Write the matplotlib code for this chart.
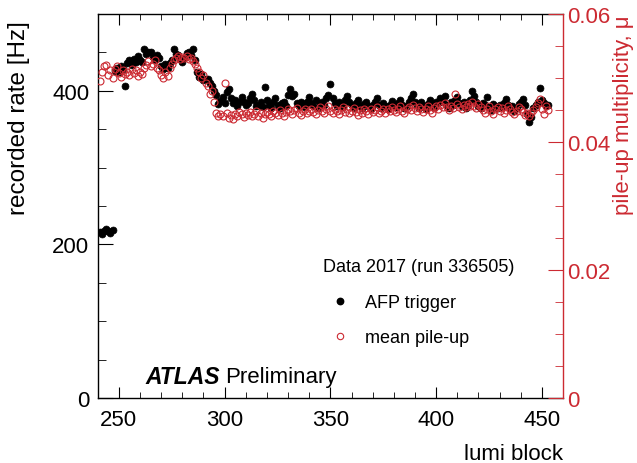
import matplotlib
matplotlib.use('Agg')
import matplotlib.pyplot as plt
from matplotlib.ticker import MultipleLocator, FuncFormatter
from matplotlib.lines import Line2D

plt.rcParams['font.family'] = ['Liberation Sans', 'DejaVu Sans']

RED = '#cc2a32'

lumi_start = 241
# AFP trigger recorded rate [Hz], one value per lumi block from 241
afp_rate = [
    216, 214, 218, 220, 217, 215, 219,
    426, 430, 424, 432, 428, 406,
    436, 440, 434, 442, 438, 445, 440, 437, 454,
    448, 451, 450, 444, 440, 446, 443,
    432, 428, 435, 430, 436, 440,
    454, 448, 446, 441, 438, 443, 449, 451, 447, 454,
    440, 425, 418, 422, 414, 416, 415, 410, 406, 400, 395,
    383, 387, 392, 384,
    398, 402, 390, 384, 388, 380, 385, 392, 386, 381,
    384, 390, 396, 388, 380, 382, 386, 379, 405, 388,
    382, 378, 385, 390, 381, 377, 384, 386, 380, 394,
    402, 393, 396, 384, 380, 386, 382, 379, 385, 392,
    384, 380, 388, 378, 383, 386, 381, 390, 395, 409,
    390, 384, 380, 386, 382, 379, 388, 393, 385, 381,
    378, 384, 388, 380, 377, 383, 386, 380, 376, 382,
    385, 390, 381, 378, 384, 380, 376, 382, 387, 383,
    379, 384, 388, 381, 377, 380, 385, 390, 396, 386,
    382, 378, 385, 380, 376, 383, 388, 381, 379, 386,
    384, 390, 386, 393, 382, 378, 385, 381, 388, 392,
    384, 380, 386, 378, 382, 388, 400, 393, 385, 380,
    378, 384, 381, 392, 379, 375, 383, 380, 377, 382,
    379, 384, 389, 381, 376, 380, 374, 378, 383, 385,
    389, 381, 370, 359, 366, 378, 382, 385, 404, 388,
    384, 380, 382,
]
# mean pile-up multiplicity per lumi block
mean_mu = [
    0.0495, 0.0510, 0.0518, 0.0520, 0.0505, 0.0512, 0.0500,
    0.0514, 0.0518, 0.0508, 0.0502, 0.0512, 0.0506,
    0.0510, 0.0504, 0.0514, 0.0508, 0.0512, 0.0503, 0.0509, 0.0506, 0.0515,
    0.0520, 0.0526, 0.0518, 0.0522, 0.0528, 0.0516, 0.0512,
    0.0505, 0.0500, 0.0510, 0.0503, 0.0515, 0.0522,
    0.0528, 0.0532, 0.0534, 0.0530, 0.0533, 0.0531, 0.0535, 0.0529, 0.0532, 0.0527,
    0.0522, 0.0515, 0.0510, 0.0500, 0.0505, 0.0492, 0.0488, 0.0475, 0.0480, 0.0462, 0.0445,
    0.0440, 0.0444, 0.0441, 0.0492,
    0.0446, 0.0438, 0.0442, 0.0436, 0.0444, 0.0440, 0.0447, 0.0443, 0.0439, 0.0445,
    0.0442, 0.0447, 0.0440, 0.0444, 0.0449, 0.0441, 0.0446, 0.0438, 0.0443, 0.0447,
    0.0444, 0.0440, 0.0448, 0.0445, 0.0442, 0.0450, 0.0446, 0.0441, 0.0447, 0.0452,
    0.0448, 0.0444, 0.0450, 0.0453, 0.0446, 0.0442, 0.0449, 0.0451, 0.0445, 0.0448,
    0.0452, 0.0447, 0.0444, 0.0450, 0.0454, 0.0448, 0.0445, 0.0451, 0.0456, 0.0449,
    0.0446, 0.0452, 0.0448, 0.0443, 0.0450, 0.0454, 0.0447, 0.0451, 0.0445, 0.0449,
    0.0453, 0.0447, 0.0442, 0.0450, 0.0446, 0.0451, 0.0448, 0.0444, 0.0452, 0.0447,
    0.0450, 0.0455, 0.0446, 0.0449, 0.0452, 0.0445, 0.0451, 0.0448, 0.0454, 0.0450,
    0.0447, 0.0452, 0.0456, 0.0449, 0.0445, 0.0451, 0.0455, 0.0450, 0.0458, 0.0453,
    0.0449, 0.0454, 0.0451, 0.0447, 0.0452, 0.0456, 0.0450, 0.0446, 0.0453, 0.0457,
    0.0452, 0.0458, 0.0455, 0.0461, 0.0454, 0.0450, 0.0457, 0.0453, 0.0475, 0.0459,
    0.0455, 0.0451, 0.0458, 0.0454, 0.0460, 0.0456, 0.0462, 0.0457, 0.0453, 0.0459,
    0.0455, 0.0450, 0.0446, 0.0452, 0.0457, 0.0448, 0.0444, 0.0451, 0.0455, 0.0449,
    0.0453, 0.0446, 0.0450, 0.0456, 0.0452, 0.0447, 0.0443, 0.0449, 0.0454, 0.0451,
    0.0447, 0.0442, 0.0446, 0.0440, 0.0445, 0.0450, 0.0455, 0.0461, 0.0467, 0.0452,
    0.0444, 0.0456, 0.0450,
]
lumi_block = list(range(lumi_start, lumi_start + len(afp_rate)))

fig = plt.figure(figsize=(6.37, 4.64), dpi=100)
ax = fig.add_axes([0.1534, 0.140, 0.7306, 0.8277])
ax2 = ax.twinx()

ax.plot(lumi_block, afp_rate, 'o', color='black', ms=5.0, mec='black', mew=0.5)
ax2.plot(lumi_block, mean_mu, 'o', mfc='none', mec=RED, ms=5.0, mew=0.8)

ax.set_xlim(240, 460)
ax.set_ylim(0, 500)
ax2.set_ylim(0, 0.06)

ax.xaxis.set_major_locator(MultipleLocator(50))
ax.xaxis.set_minor_locator(MultipleLocator(10))
ax.yaxis.set_major_locator(MultipleLocator(200))
ax.yaxis.set_minor_locator(MultipleLocator(50))
ax2.yaxis.set_major_locator(MultipleLocator(0.02))
ax2.yaxis.set_minor_locator(MultipleLocator(0.005))
ax2.yaxis.set_major_formatter(FuncFormatter(lambda v, p: '0' if abs(v) < 1e-9 else '%.2f' % v))

ax.tick_params(axis='x', which='both', direction='in', top=True, labelsize=16, pad=8, color='black')
ax.tick_params(axis='x', which='major', length=8)
ax.tick_params(axis='x', which='minor', length=4.5)
ax.tick_params(axis='y', which='both', direction='in', right=False, labelsize=16, pad=6)
ax.tick_params(axis='y', which='major', length=11)
ax.tick_params(axis='y', which='minor', length=5.5)
ax2.tick_params(axis='y', which='both', direction='in', colors=RED, labelsize=16, pad=3)
ax2.tick_params(axis='y', which='major', length=11)
ax2.tick_params(axis='y', which='minor', length=5.5)

for s in ['top', 'bottom', 'left']:
    ax2.spines[s].set_visible(False)
ax.spines['right'].set_visible(False)
ax2.spines['right'].set_color(RED)
for s in ax.spines.values():
    s.set_linewidth(1.0)
ax2.spines['right'].set_linewidth(1.0)

fig.text(19 / 637, 1 - 21 / 464, 'recorded rate [Hz]', rotation=90, ha='center', va='top', fontsize=17.5)
fig.text(623 / 637, 1 - 15 / 464, 'pile-up multiplicity, μ', rotation=90, ha='center', va='top',
         fontsize=16, color=RED)
fig.text(563 / 637, 1 - 455 / 464, 'lumi block', ha='right', va='center', fontsize=16)

# ATLAS label
fig.text(145 / 637, 1 - 378 / 464, 'ATLAS', ha='left', va='center', fontsize=16.5,
         fontweight='bold', fontstyle='italic')
fig.text(225 / 637, 1 - 378 / 464, 'Preliminary', ha='left', va='center', fontsize=16)

# legend
fig.text(323 / 637, 1 - 268 / 464, 'Data 2017 (run 336505)', ha='left', va='center', fontsize=13)
handles = [
    Line2D([], [], ls='none', marker='o', color='black', ms=4.6),
    Line2D([], [], ls='none', marker='o', mfc='none', mec=RED, ms=4.6, mew=0.8),
]
fig.legend(handles, ['AFP trigger', 'mean pile-up'], loc='upper left',
           bbox_to_anchor=(331 / 637, 1 - 295 / 464), frameon=False, fontsize=13,
           handlelength=1.0, handletextpad=0.9, labelspacing=1.0, borderpad=0, borderaxespad=0)

fig.savefig('out.png', dpi=100)
